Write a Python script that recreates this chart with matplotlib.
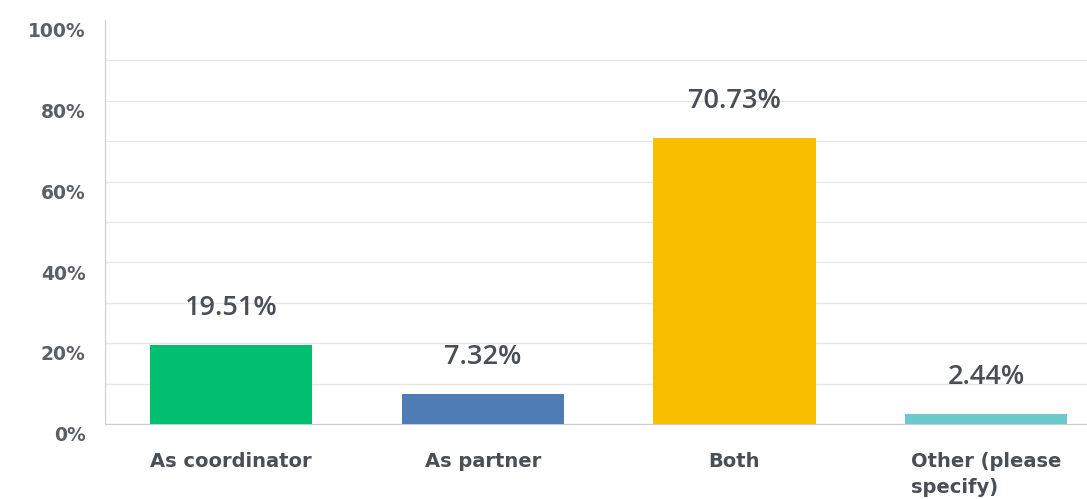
import matplotlib.pyplot as plt
import matplotlib.transforms as mtransforms
import numpy as np

categories = ['As coordinator', 'As partner', 'Both', 'Other (please\nspecify)']
values = [19.51, 7.32, 70.73, 2.44]
colors = ['#00BF6F', '#507CB6', '#F9BE00', '#6BC8CD']
yticks = [0, 20, 40, 60, 80, 100]

plt.rcParams['font.family'] = ['DejaVu Sans']
text_col = '#4a4f55'

fig = plt.figure(figsize=(10.87, 4.99), dpi=100)
ax = fig.add_axes([0.0966, 0.1503, 0.9034, 0.8097])

x = np.arange(len(categories))
ax.bar(x, values, width=0.644, color=colors, zorder=3)

for xi, v in zip(x, values):
    ax.annotate(f'{v:.2f}%', (xi, v), xytext=(0, 27), textcoords='offset points',
                ha='center', va='center', fontsize=19.5, fontweight='semibold',
                family=['Open Sans', 'DejaVu Sans'], color=text_col)

ax.set_xlim(-0.5, 3.40)
ax.set_ylim(0, 100)
ax.set_yticks(yticks)
ax.set_yticks(np.arange(10, 100, 20), minor=True)
ax.set_yticklabels([f'{t}%' for t in yticks], fontsize=13.5, fontweight='bold', color='#5b6066')
ax.tick_params(axis='y', which='both', length=0, pad=14)
offset = mtransforms.ScaledTranslation(0, -7 / 72, fig.dpi_scale_trans)
for lab in ax.get_yticklabels():
    lab.set_transform(lab.get_transform() + offset)

ax.set_xticks(x)
ax.set_xticklabels(categories, fontsize=14, fontweight='bold', color='#4a4f55',
                   va='top', multialignment='left', linespacing=1.5)
ax.tick_params(axis='x', length=0, pad=20)

ax.grid(axis='y', which='both', color='#e6e6e6', linewidth=1, zorder=0)
ax.get_ygridlines()[-1].set_visible(False)
for s in ['top', 'right']:
    ax.spines[s].set_visible(False)
ax.spines['left'].set_color('#cccccc')
ax.spines['bottom'].set_color('#cccccc')

fig.savefig('out.png', dpi=100)
